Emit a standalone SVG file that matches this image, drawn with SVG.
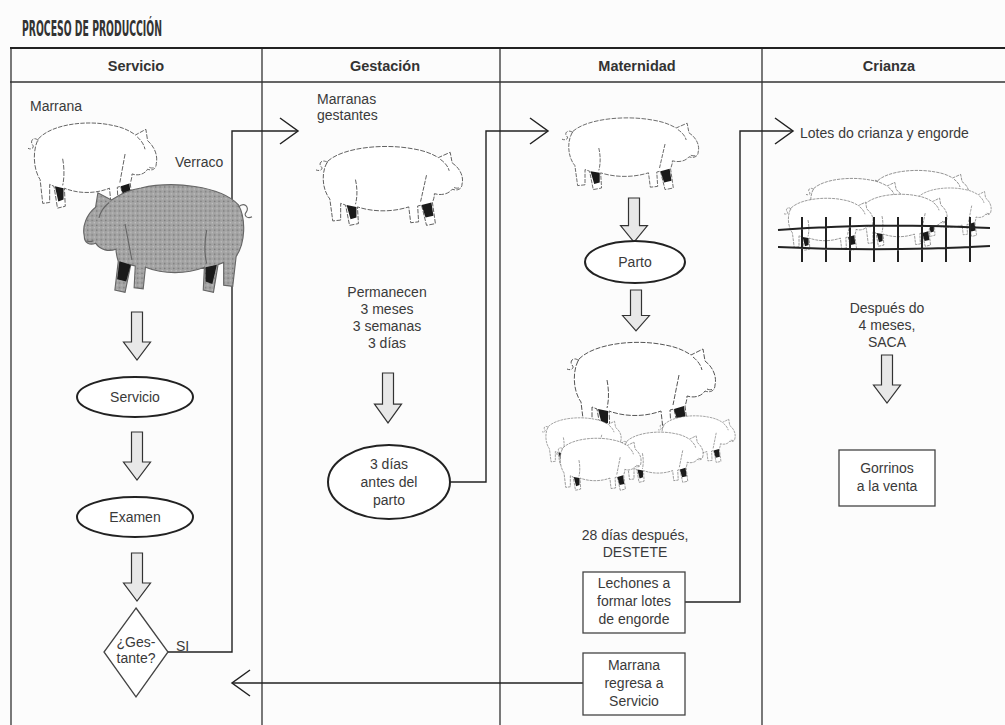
<svg xmlns="http://www.w3.org/2000/svg" width="1005" height="725" viewBox="0 0 1005 725">
<style>
.bg{fill:#fcfcfc}
.grid{stroke:#333;stroke-width:1.3;fill:none}
.hdr{font-family:"Liberation Sans",Arial,sans-serif;font-weight:bold;font-size:14.5px;fill:#333;text-anchor:middle}
.t{font-family:"Liberation Sans",Arial,sans-serif;font-size:14px;fill:#3a3a3a}
.c{text-anchor:middle}
.ell{fill:#fff;stroke:#222;stroke-width:2}
.box{fill:#fff;stroke:#444;stroke-width:1.3}
.conn{fill:none;stroke:#222;stroke-width:1.4}
.barrow{fill:#e8e8e8;stroke:#333;stroke-width:1.2}
.pigw{fill:#fff;stroke:#555;stroke-width:1;stroke-dasharray:5 1.5}
.pigg{fill:url(#stip);stroke:#666;stroke-width:1}
.fence{stroke:#222;stroke-width:2;fill:none}
</style>
<defs>
<marker id="chev" markerUnits="userSpaceOnUse" markerWidth="22" markerHeight="30" refX="19" refY="14" orient="auto" viewBox="0 0 22 30">
<path d="M1,1 L19,14 L1,27" fill="none" stroke="#222" stroke-width="1.5"/>
</marker>
<pattern id="stip" patternUnits="userSpaceOnUse" width="4" height="4">
<rect width="4" height="4" fill="#a4a4a4"/>
<circle cx="1" cy="1" r="0.7" fill="#777"/>
<circle cx="3" cy="3" r="0.6" fill="#c8c8c8"/>
</pattern>
<path id="ba" d="M-5.5,0 H5.5 V30 H13.5 L0,48 L-13.5,30 H-5.5 Z"/>
<symbol id="pig" viewBox="0 0 150 100" preserveAspectRatio="none" overflow="visible">
<path d="M12,24 C28,8 70,4 98,10 C110,12 118,16 124,20 L136,14 L138,26 C146,32 150,42 148,50 C148,56 143,58 138,56 C134,62 126,63 120,61 C120,65 119,68 118,71 L121,95 L112,97 L107,74 L103,75 L104,93 L96,94 L94,76 C78,82 58,82 42,76 L43,95 L34,97 L30,74 L25,72 L25,91 L17,92 L14,67 C6,56 5,36 12,24 Z"/>
<path d="M12,26 c-5,-5 -10,0 -7,4 c3,3 -1,6 -5,4 M126,22 c4,3 8,8 9,13 M140,54 c2,1 4,1 6,0 M112,40 c-2,10 -4,20 -6,30 M40,45 c2,10 2,20 0,28" fill="none"/>
<path d="M31,74 L41,76 L41,88 L35,90 Z M107,74 L117,71 L119,86 L111,88 Z" fill="#1a1a1a" stroke="none"/>
</symbol>
</defs>

<rect class="bg" x="0" y="0" width="1005" height="725"/>

<text x="22" y="36" font-family="'Liberation Sans Narrow','DejaVu Sans Condensed','Liberation Sans',sans-serif" font-weight="bold" font-size="21" fill="#333" textLength="140" lengthAdjust="spacingAndGlyphs">PROCESO DE PRODUCCIÓN</text>

<g id="table">
<path class="grid" d="M10,82 H1005 M11,48 V725 M262,48 V725 M500,48 V725 M762,48 V725" />
<path d="M10,48 H1005" stroke="#222" stroke-width="2"/>
<text class="hdr" x="136" y="71">Servicio</text>
<text class="hdr" x="385" y="71">Gestación</text>
<text class="hdr" x="637" y="71">Maternidad</text>
<text class="hdr" x="889" y="71">Crianza</text>
</g>

<g id="connectors">
<path class="conn" d="M168,652 H232 V131 H298" marker-end="url(#chev)"/>
<path class="conn" d="M450,482 H486 V131 H548" marker-end="url(#chev)"/>
<path class="conn" d="M685,602 H740 V131 H793" marker-end="url(#chev)"/>
<path class="conn" d="M583,683 H232" marker-end="url(#chev)"/>
<use href="#ba" class="barrow" transform="translate(137,312)"/>
<use href="#ba" class="barrow" transform="translate(137,432)"/>
<use href="#ba" class="barrow" transform="translate(137,553)"/>
<use href="#ba" class="barrow" transform="translate(388,373) scale(1,1.04)"/>
<use href="#ba" class="barrow" transform="translate(634,198) scale(1,0.92)"/>
<use href="#ba" class="barrow" transform="translate(636,290) scale(1,0.85)"/>
<use href="#ba" class="barrow" transform="translate(887,355) scale(1,1)"/>
</g>

<g id="servicio-animals">
<text class="t" x="30" y="111">Marrana</text>
<use href="#pig" class="pigw" x="28" y="116" width="130" height="95"/>
<text class="t" x="175" y="167">Verraco</text>
<g transform="translate(252,176) scale(-1,1)">
<use href="#pig" class="pigg" x="0" y="0" width="170" height="120"/>
</g>
</g>

<g id="n-servicio"><ellipse class="ell" cx="135" cy="397" rx="58" ry="20"/><text class="t c" x="135" y="402">Servicio</text></g>
<g id="n-examen"><ellipse class="ell" cx="135" cy="517" rx="58" ry="20"/><text class="t c" x="135" y="522">Examen</text></g>
<g id="n-gestante"><path class="box" d="M136,608 L168,652 L136,697 L104,652 Z" stroke-width="1.8"/><text class="t c" x="136" y="647" font-size="12.5">¿Ges-</text><text class="t c" x="136" y="663" font-size="12.5">tante?</text></g>
<text class="t" x="176" y="651" font-size="12.5">SI</text>

<g id="n-gestantes">
<text class="t" x="317" y="104">Marranas</text>
<text class="t" x="317" y="120">gestantes</text>
<use href="#pig" class="pigw" x="316" y="140" width="148" height="88"/>
</g>
<g id="n-permanecen">
<text class="t c" x="387" y="297">Permanecen</text>
<text class="t c" x="387" y="314">3 meses</text>
<text class="t c" x="387" y="331">3 semanas</text>
<text class="t c" x="387" y="348">3 días</text>
</g>
<g id="n-3dias"><ellipse class="ell" cx="389" cy="482" rx="61" ry="37"/>
<text class="t c" x="389" y="469">3 días</text><text class="t c" x="389" y="487">antes del</text><text class="t c" x="389" y="505">parto</text></g>

<g id="n-maternidad-pig"><use href="#pig" class="pigw" x="562" y="112" width="138" height="80"/></g>
<g id="n-parto"><ellipse class="ell" cx="635" cy="262" rx="50" ry="21"/><text class="t c" x="635" y="267">Parto</text></g>
<g id="n-camada">
<use href="#pig" class="pigw" x="567" y="335" width="150" height="100"/>
<use href="#pig" class="pigw" x="658" y="412" width="78" height="52"/>
<use href="#pig" class="pigw" x="542" y="414" width="80" height="52"/>
<use href="#pig" class="pigw" x="620" y="428" width="84" height="56"/>
<use href="#pig" class="pigw" x="556" y="434" width="86" height="58"/>
</g>
<g id="n-destete"><text class="t c" x="635" y="540">28 días después,</text><text class="t c" x="635" y="557">DESTETE</text></g>
<g id="n-lechones"><rect class="box" x="583" y="572" width="102" height="61"/>
<text class="t c" x="634" y="588">Lechones a</text><text class="t c" x="634" y="606">formar lotes</text><text class="t c" x="634" y="624">de engorde</text></g>
<g id="n-regresa"><rect class="box" x="583" y="653" width="102" height="62"/>
<text class="t c" x="634" y="670">Marrana</text><text class="t c" x="634" y="688">regresa a</text><text class="t c" x="634" y="706">Servicio</text></g>

<g id="n-lotes">
<text class="t" x="800" y="138">Lotes do crianza y engorde</text>
<use href="#pig" class="pigw" x="870" y="166" width="100" height="60"/>
<use href="#pig" class="pigw" x="806" y="174" width="98" height="60"/>
<use href="#pig" class="pigw" x="912" y="184" width="80" height="54"/>
<use href="#pig" class="pigw" x="858" y="190" width="90" height="58"/>
<use href="#pig" class="pigw" x="784" y="194" width="90" height="58"/>
<path class="fence" d="M778,230 Q880,222 990,228 M778,247 Q880,252 990,246 M802,217 V262 M826,217 V262 M850,217 V262 M874,217 V262 M898,217 V262 M922,217 V262 M946,217 V262 M970,217 V262"/>
</g>
<g id="n-saca"><text class="t c" x="887" y="313">Después do</text><text class="t c" x="887" y="330">4 meses,</text><text class="t c" x="887" y="347">SACA</text></g>
<g id="n-venta"><rect class="box" x="839" y="450" width="96" height="56"/>
<text class="t c" x="887" y="473">Gorrinos</text><text class="t c" x="887" y="491">a la venta</text></g>
</svg>
